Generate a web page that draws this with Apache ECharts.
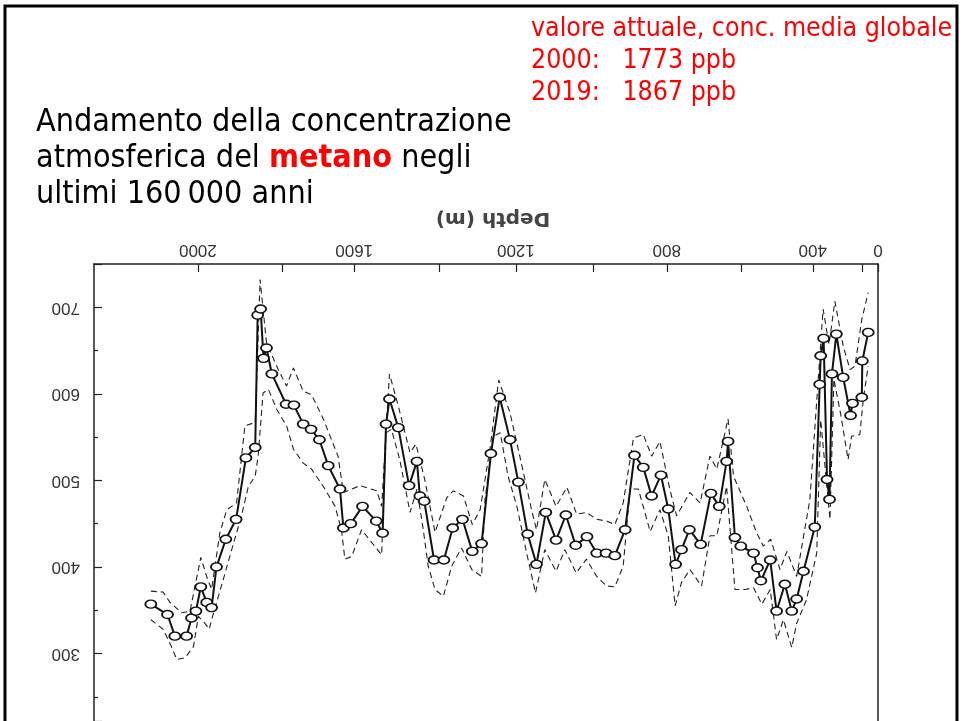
<!DOCTYPE html>
<html>
<head>
<meta charset="utf-8">
<script src="https://cdn.jsdelivr.net/npm/echarts@6/dist/echarts.min.js"></script>
<style>
  html, body { margin: 0; padding: 0; background: #fff; }
  #chart { width: 963px; height: 721px; }
</style>
</head>
<body>
<div id="chart"></div>
<script>
// Vostok methane record: age (kyr BP) and CH4 concentration (ppbv)
const mainAge = [148.4,145.0,143.5,141.1,140.1,139.2,138.2,137.0,136.0,135.0,133.1,131.0,129.0,127.1,126.6,126.0,125.4,124.8,123.7,120.8,119.2,117.3,115.7,114.0,112.2,109.8,109.1,107.6,105.2,102.4,101.1,100.4,99.7,97.9,95.7,94.1,93.5,92.6,90.6,88.6,86.8,84.8,82.8,80.9,79.0,77.2,75.1,73.4,71.5,69.7,67.8,65.7,63.7,61.7,59.4,57.4,55.5,53.7,51.6,49.7,47.9,46.2,44.3,42.8,41.3,40.1,38.5,36.2,34.1,32.4,30.9,30.6,29.2,28.0,25.4,24.6,23.9,22.0,20.7,19.0,17.6,16.6,15.2,12.9,11.9,11.7,11.1,10.4,9.9,9.4,8.5,7.1,5.6,5.2,3.3,3.2,2.0];
const mainCH4 = [357,345,320,320,341,349,377,359,353,400,432,455,526,538,691,698,641,653,623,588,587,565,559,547,517,490,445,450,470,453,439,565,594,561,494,522,482,476,408,408,445,455,418,427,531,596,547,498,438,403,463,431,460,425,435,416,416,413,443,529,515,482,506,467,403,420,443,426,485,470,522,545,434,424,416,399,384,408,349,380,349,363,395,446,611,644,664,501,478,623,669,619,575,589,596,638,671];

// Upper and lower uncertainty envelopes
const upperAge = [148.4,145.9,144.5,142.1,140.4,138.2,137.0,136.0,134.3,132.9,130.9,129.2,127.1,126.1,124.8,122.4,120.7,119.3,117.3,115.6,113.2,110.2,109.1,105.7,102.3,101.3,99.7,97.9,95.5,94.3,92.5,90.4,88.0,86.7,84.6,82.8,81.2,79.2,77.4,75.1,73.1,70.7,69.7,68.0,65.7,63.5,61.5,59.5,57.4,55.4,53.7,52.0,49.9,47.9,46.2,44.5,42.5,41.1,38.4,36.3,34.3,32.9,30.6,29.5,26.8,24.8,23.4,21.9,20.0,18.6,16.6,13.9,11.2,10.0,8.8,7.1,5.7,4.7,3.3,2.0];
const upperCH4 = [372,371,359,347,349,411,389,374,440,466,474,563,567,732,659,628,609,630,603,599,571,528,486,494,488,470,623,586,532,542,501,440,480,488,482,449,466,536,616,578,528,466,443,501,470,492,461,463,455,453,449,474,549,553,528,545,490,459,486,474,528,513,571,505,470,440,424,432,397,418,389,478,698,657,707,655,628,632,686,717];
const lowerAge = [148.4,145.9,144.2,143.1,141.4,139.7,138.7,137.4,136.5,135.7,134.0,132.3,129.9,128.5,127.1,126.5,125.5,124.4,122.7,120.7,119.3,117.3,115.6,113.2,110.8,109.5,108.8,107.4,105.4,103.3,101.3,100.4,99.3,97.6,95.5,94.1,92.8,91.8,90.4,88.7,87.0,85.0,82.9,80.9,80.2,78.5,77.1,75.5,73.7,71.7,69.9,68.0,65.7,63.9,61.6,59.5,57.4,55.4,53.7,52.0,50.6,48.9,46.5,44.5,42.8,41.4,40.1,38.4,36.0,34.3,32.9,30.9,29.2,27.1,25.4,23.7,22.0,20.7,19.3,17.6,16.6,14.6,12.5,11.7,9.8,9.0,7.6,6.1,5.4,3.7,3.0,2.0];
const lowerCH4 = [339,328,308,293,295,308,343,335,328,345,378,412,459,493,505,528,601,605,582,563,536,520,513,493,470,443,409,412,443,428,414,555,559,524,463,490,443,401,374,366,401,422,397,389,478,551,555,505,470,416,370,420,395,420,393,409,389,378,377,401,490,490,441,466,436,355,382,397,378,436,436,493,374,374,376,357,374,316,339,307,335,362,416,570,455,617,576,524,551,553,594,632];

// Depth scale (m) along the top, placed at the matching ages (kyr)
const depthLabels = [0,200,400,600,800,1000,1200,1400,1600,1800,2000];
const depthAges   = [0,3.3,13.3,28.0,43.1,58.2,73.9,89.6,106.9,121.6,138.8];
const labelledDepths = [0,400,800,1200,1600,2000];

const pairs = (a, b) => a.map((x, i) => [x, b[i]]);
const depthAt = new Map(depthAges.map((a, i) => [a, depthLabels[i]]));
const labelAges = depthAges.filter((a, i) => labelledDepths.includes(depthLabels[i]));

const chart = echarts.init(document.getElementById('chart'));
const ink = '#222';
const titleFont = '"DejaVu Sans Condensed", "DejaVu Sans", sans-serif';
const axisFont = '"Liberation Sans", Arial, sans-serif';

chart.setOption({
  animation: false,
  backgroundColor: '#fff',
  title: [
    {
      text: 'Andamento della concentrazione\natmosferica del {m|metano} negli\nultimi 160\u2009000 anni',
      left: 31, top: 100,
      textStyle: {
        fontFamily: titleFont, fontSize: 32, fontWeight: 'normal',
        color: '#000', lineHeight: 36,
        rich: { m: { fontFamily: titleFont, fontSize: 32, fontWeight: 'bold', color: '#ff0000', lineHeight: 36 } }
      }
    },
    {
      text: 'valore attuale, conc. media globale\n2000:   1773 ppb\n2019:   1867 ppb',
      left: 526, top: 8,
      textStyle: {
        fontFamily: titleFont, fontSize: 26.5, fontWeight: 'normal',
        color: '#ff0000', lineHeight: 32
      }
    }
  ],
  graphic: [
    {
      type: 'rect', silent: true,
      shape: { x: 5, y: 6, width: 952, height: 760 },
      style: { fill: 'none', stroke: '#000', lineWidth: 3 }
    },
    {
      type: 'text', x: 493, y: 218, rotation: Math.PI, silent: true,
      style: {
        text: 'Depth (m)', align: 'center', verticalAlign: 'middle',
        font: 'bold 20px "DejaVu Sans", sans-serif', fill: '#444'
      }
    }
  ],
  grid: { left: 94, top: 264, width: 784, bottom: 0, show: false },
  xAxis: {
    type: 'value', min: 0, max: 160, inverse: true, position: 'top',
    axisLine: { show: true, onZero: false, lineStyle: { color: ink, width: 1.5 } },
    splitLine: { show: false },
    axisTick: {
      show: true, inside: true, length: 8, customValues: depthAges,
      lineStyle: { color: ink, width: 1.2 }
    },
    axisLabel: {
      customValues: labelAges, rotate: 180, margin: 6,
      formatter: v => String(depthAt.get(v)),
      fontFamily: axisFont, fontSize: 17, color: '#333'
    }
  },
  yAxis: [
    {
      type: 'value', min: 222, max: 750, splitNumber: 5,
      axisLine: { show: true, onZero: false, lineStyle: { color: ink, width: 1.5 } },
      splitLine: { show: false },
      axisTick: { show: true, inside: true, length: 8, lineStyle: { color: ink, width: 1.2 } },
      minorTick: { show: true, splitNumber: 2, length: 4, lineStyle: { color: ink, width: 1.2 } },
      axisLabel: {
        rotate: 180, margin: 14, showMinLabel: false, showMaxLabel: false,
        formatter: v => (v >= 300 && v <= 700 ? String(v) : ''),
        fontFamily: axisFont, fontSize: 17, color: '#333'
      }
    },
    {
      type: 'value', min: 222, max: 750, position: 'right',
      axisLine: { show: true, onZero: false, lineStyle: { color: ink, width: 1.5 } },
      axisTick: { show: false }, axisLabel: { show: false }, splitLine: { show: false }
    }
  ],
  series: [
    {
      name: 'upper', type: 'line', data: pairs(upperAge, upperCH4),
      showSymbol: false, silent: true,
      lineStyle: { color: ink, width: 1.1, type: [6, 4] }
    },
    {
      name: 'lower', type: 'line', data: pairs(lowerAge, lowerCH4),
      showSymbol: false, silent: true,
      lineStyle: { color: ink, width: 1.1, type: [6, 4] }
    },
    {
      name: 'CH4', type: 'line', data: pairs(mainAge, mainCH4),
      symbol: 'circle', symbolSize: [11, 8], showAllSymbol: true,
      lineStyle: { color: '#111', width: 2 },
      itemStyle: { color: '#fff', borderColor: '#111', borderWidth: 1.6 },
      z: 5
    }
  ]
});
</script>
</body>
</html>
